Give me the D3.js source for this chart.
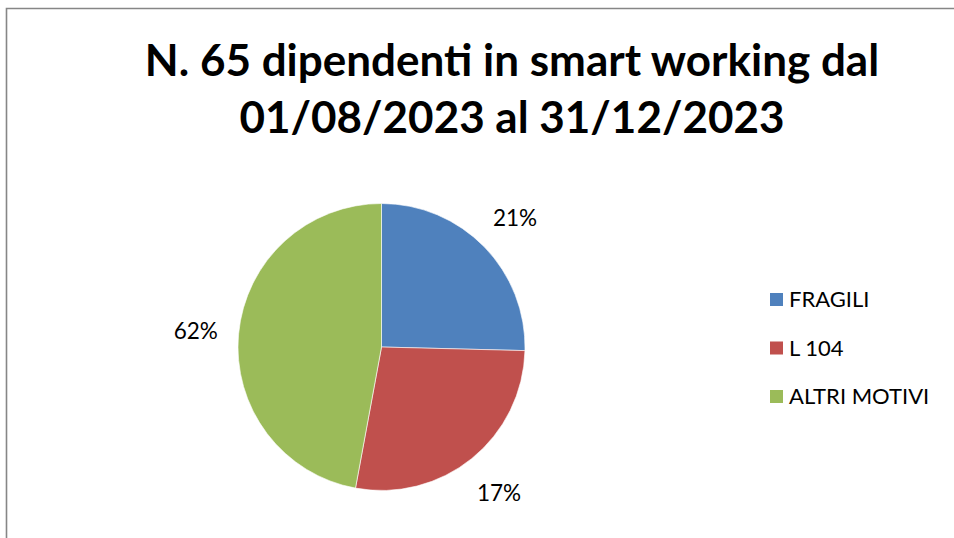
<!DOCTYPE html>
<html>
<head>
<meta charset="utf-8">
<title>Smart working</title>
<script src="https://d3js.org/d3.v7.min.js"></script>
<style>
body { margin: 0; background: #fff; }
text { font-family: Lato, "Open Sans", sans-serif; }
</style>
</head>
<body>
<script>
// data (slice sizes as drawn, labels as printed)
var categories = ["FRAGILI", "L 104", "ALTRI MOTIVI"];
var values = [25.4, 27.5, 47.1];
var pctLabels = ["21%", "17%", "62%"];
var colors = ["#4f81bd", "#c0504d", "#9bbb59"];
var titleLines = ["N. 65 dipendenti in smart working dal", "01/08/2023 al 31/12/2023"];

var W = 954, H = 538;
var svg = d3.select("body").append("svg").attr("width", W).attr("height", H);

// chart frame (open at right/bottom as cropped)
svg.append("path")
  .attr("d", "M6.5," + H + "V8.5H" + W)
  .attr("fill", "none").attr("stroke", "#868686").attr("stroke-width", 1.6);

// title
svg.selectAll(".title").data(titleLines).enter().append("text")
  .attr("class", "title")
  .attr("x", 512).attr("y", function(d, i) { return 76 + i * 57; })
  .attr("text-anchor", "middle")
  .style("font-size", "44px").style("font-weight", "bold")
  .text(function(d) { return d; });

var cx = 381.5, cy = 347, r = 143.5;
var pie = d3.pie().sort(null).value(function(d) { return d; });
var arc = d3.arc().innerRadius(0).outerRadius(r);
var arcs = pie(values);

var g = svg.append("g").attr("transform", "translate(" + cx + "," + cy + ")");
g.selectAll("path").data(arcs).enter().append("path")
  .attr("d", arc)
  .attr("fill", function(d, i) { return colors[i]; })
  .attr("stroke", "#fff").attr("stroke-width", 0.6);

// outside labels
var labelArc = d3.arc().innerRadius(r + 43).outerRadius(r + 43);
g.selectAll(".lbl").data(arcs).enter().append("text")
  .attr("class", "lbl")
  .attr("transform", function(d) { var c = labelArc.centroid(d); return "translate(" + c + ")"; })
  .attr("text-anchor", "middle").attr("dy", "0.4em")
  .style("font-size", "22.5px").attr("fill", "#000")
  .text(function(d, i) { return pctLabels[i]; });

// legend
var lg = svg.append("g").attr("transform", "translate(770,293)");
var item = lg.selectAll("g").data(categories).enter().append("g")
  .attr("transform", function(d, i) { return "translate(0," + i * 48.5 + ")"; });
item.append("rect").attr("width", 13).attr("height", 13)
  .attr("fill", function(d, i) { return colors[i]; });
item.append("text").attr("x", 19).attr("y", 6.5).attr("dy", "0.36em")
  .style("font-size", "22px").text(function(d) { return d; });
</script>
</body>
</html>
